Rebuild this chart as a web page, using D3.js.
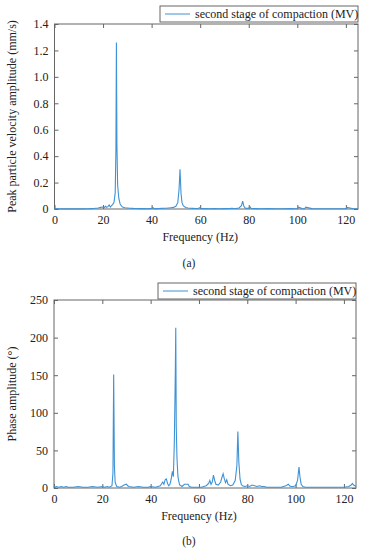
<!doctype html>
<html>
  <head>
    <meta charset="utf-8">
    <title>Spectra</title>
    <script src="https://d3js.org/d3.v7.min.js"></script>
    <style>
      body { margin: 0; background: #fff; }
      text { font-family: "Liberation Serif", "DejaVu Serif", serif; fill: #222; }
    </style>
  </head>
  <body>
    <script>
      // (a) peak particle velocity spectrum
      const freqA = [0,1,2,3,4,5,6,7,8,9,10,11,12,13,14,15,16,17,18,19,20,20.5,21,21.5,22,22.5,23,23.5,24,24.5,25,25.3,25.5,25.7,26,26.5,27,27.5,28,29,30,31,32,33,34,35,36,37,38,39,40,40.5,41,42,43,44,45,46,47,48,49,50,50.8,51.3,51.7,52.1,52.5,53,54,55,56,57,58,59,60,60.5,61,62,64,66,68,70,72,73,74,75,76,77,77.5,78,78.5,79,80,80.5,81,83,85,88,91,94,97,99,100,100.5,102,103,103.5,106,110,114,118,120,120.5,123,125];
      const ampA = [0.003,0.002,0.002,0.001,0.002,0.001,0.002,0.001,0.001,0.002,0.001,0.002,0.001,0.002,0.002,0.003,0.004,0.006,0.008,0.012,0.015,0.01,0.02,0.012,0.018,0.03,0.015,0.025,0.035,0.05,0.12,0.45,1.26,0.5,0.18,0.08,0.04,0.025,0.015,0.01,0.008,0.006,0.005,0.004,0.004,0.003,0.003,0.003,0.002,0.003,0.004,0.012,0.003,0.003,0.004,0.005,0.006,0.006,0.008,0.01,0.012,0.02,0.05,0.15,0.3,0.12,0.05,0.025,0.012,0.008,0.006,0.005,0.004,0.004,0.01,0.004,0.003,0.003,0.002,0.003,0.002,0.003,0.004,0.006,0.004,0.005,0.008,0.025,0.06,0.02,0.008,0.005,0.006,0.018,0.004,0.003,0.002,0.003,0.002,0.002,0.003,0.002,0.002,0.014,0.003,0.002,0.014,0.003,0.002,0.002,0.002,0.002,0.012,0.002,0.002,0.002];

      // (b) phase amplitude spectrum
      const freqB = [0,0.5,1,2,3,4,5,6,8,10,12,14,16,18,20,21,22,23,24,24.4,24.7,25,25.3,25.6,26,27,28,29,30,30.5,31,33,35,37,39,40,42,43,44,45,45.5,46,46.5,47,47.5,48,48.5,49,49.4,49.8,50.2,50.4,50.6,50.9,51.3,51.7,52,53,54,55,55.5,56,57,59,61,62,63,64,64.5,65,65.5,66,66.5,67,68,69,69.5,70,70.5,71,71.5,72,73,74,75,75.7,76.1,76.5,77,77.5,78,79,80,81,82,83,84,85,86,87,88,90,92,94,96,97,97.5,98,99,100,100.8,101.4,101.8,102.3,103,104,106,108,110,112,114,116,118,120,122,123,123.5,124,124.5,125];
      const ampB = [3,1,2,1,2,1,2,1,1,2,1,1,2,1,2,1,2,1,3,20,151,30,8,5,2,1,2,4,5,3,2,1,2,1,1,2,1,2,3,8,5,11,12,6,3,5,12,22,15,60,150,213,82,40,15,8,4,2,5,5,5,2,1,1,1,2,3,6,10,5,8,17,10,5,4,8,14,19,12,7,11,5,3,4,10,30,75,35,12,5,3,2,3,2,4,3,2,3,2,2,1,1,1,1,3,5,3,2,2,3,10,28,15,5,2,1,1,1,1,1,1,1,1,1,2,4,6,4,3,2];

      const xTicks = [0, 20, 40, 60, 80, 100, 120];
      const yTicksA = [0, 0.2, 0.4, 0.6, 0.8, 1.0, 1.2, 1.4];
      const yTicksB = [0, 50, 100, 150, 200, 250];
      const legendLabel = 'second stage of compaction (MV)';

      const width = 365, height = 550;
      const lineColor = '#3f92d4';
      const axisColor = '#666';
      const fs = 12;

      const svg = d3.select('body').append('svg')
          .attr('width', width)
          .attr('height', height);

      function drawPanel(cfg) {
        const x = d3.scaleLinear().domain([0, 125]).range([cfg.left, cfg.right]);
        const y = d3.scaleLinear().domain([0, cfg.yMax]).range([cfg.bottom, cfg.top]);
        const g = svg.append('g');

        const styleAxis = sel => {
          sel.select('.domain').remove();
          sel.selectAll('line').attr('stroke', axisColor);
          sel.selectAll('text').attr('font-size', fs).attr('fill', '#222')
              .style('font-family', '"Liberation Serif", serif');
        };

        // ticks pointing inward on all four sides
        g.append('g').attr('transform', `translate(0,${cfg.bottom})`)
          .call(d3.axisBottom(x).tickValues(xTicks).tickSize(-4).tickPadding(6).tickFormat(d3.format('d')))
          .call(styleAxis);
        g.append('g').attr('transform', `translate(0,${cfg.top})`)
          .call(d3.axisTop(x).tickValues(xTicks).tickSize(-4).tickFormat(''))
          .call(styleAxis);
        g.append('g').attr('transform', `translate(${cfg.left},0)`)
          .call(d3.axisLeft(y).tickValues(cfg.yTicks).tickSize(-4).tickPadding(6).tickFormat(cfg.fmt))
          .call(styleAxis);
        g.append('g').attr('transform', `translate(${cfg.right},0)`)
          .call(d3.axisRight(y).tickValues(cfg.yTicks).tickSize(-4).tickFormat(''))
          .call(styleAxis);

        g.append('rect')
          .attr('x', cfg.left).attr('y', cfg.top)
          .attr('width', cfg.right - cfg.left).attr('height', cfg.bottom - cfg.top)
          .attr('fill', 'none').attr('stroke', axisColor).attr('stroke-width', 1);

        const line = d3.line()
          .x((d, i) => x(cfg.freq[i]))
          .y(d => y(d));
        g.append('path')
          .datum(cfg.amp)
          .attr('d', line)
          .attr('fill', 'none')
          .attr('stroke', lineColor)
          .attr('stroke-width', 1.1);

        // legend
        const lg = g.append('g');
        lg.append('rect')
          .attr('x', cfg.legend[0]).attr('y', cfg.legend[1])
          .attr('width', cfg.right - cfg.legend[0]).attr('height', 16)
          .attr('fill', '#fff').attr('stroke', axisColor);
        lg.append('line')
          .attr('x1', cfg.legend[0] + 5).attr('x2', cfg.legend[0] + 30)
          .attr('y1', cfg.legend[1] + 8).attr('y2', cfg.legend[1] + 8)
          .attr('stroke', lineColor);
        lg.append('text')
          .attr('x', cfg.legend[0] + 35).attr('y', cfg.legend[1] + 12)
          .attr('font-size', fs)
          .text(legendLabel);

        // axis titles
        g.append('text')
          .attr('x', (cfg.left + cfg.right) / 2 - 6)
          .attr('y', cfg.bottom + 32)
          .attr('text-anchor', 'middle')
          .attr('font-size', fs)
          .text('Frequency (Hz)');
        g.append('text')
          .attr('transform', `translate(${cfg.yLabelX},${(cfg.top + cfg.bottom) / 2}) rotate(-90)`)
          .attr('text-anchor', 'middle')
          .attr('font-size', fs)
          .text(cfg.yLabel);
        g.append('text')
          .attr('x', 189)
          .attr('y', cfg.tag)
          .attr('text-anchor', 'middle')
          .attr('font-size', 11.5)
          .text(cfg.tagText);
      }

      drawPanel({
        freq: freqA, amp: ampA, yMax: 1.4, yTicks: yTicksA,
        fmt: d => d === 0 ? '0' : d3.format('.1f')(d),
        left: 54.5, right: 358, top: 24, bottom: 209,
        legend: [160, 6], yLabelX: 16,
        yLabel: 'Peak particle velocity amplitude (mm/s)',
        tag: 267, tagText: '(a)'
      });

      drawPanel({
        freq: freqB, amp: ampB, yMax: 250, yTicks: yTicksB,
        fmt: d3.format('d'),
        left: 54, right: 356, top: 300, bottom: 488,
        legend: [158, 283], yLabelX: 16,
        yLabel: 'Phase amplitude (°)',
        tag: 545, tagText: '(b)'
      });
    </script>
  </body>
</html>
